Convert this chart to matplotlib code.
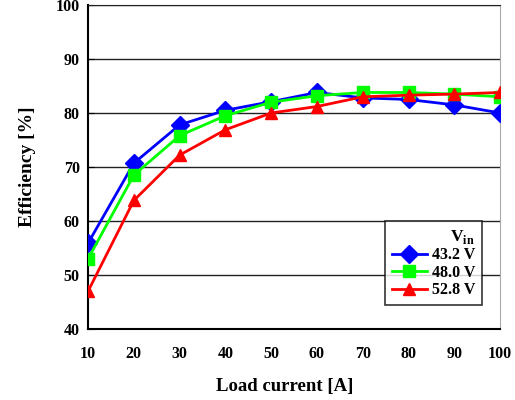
import matplotlib.pyplot as plt

plt.rcParams['font.family'] = ['Liberation Serif', 'DejaVu Serif']
plt.rcParams['font.weight'] = 'bold'
plt.rcParams['mathtext.fontset'] = 'custom'
plt.rcParams['mathtext.rm'] = 'Liberation Serif:bold'
plt.rcParams['mathtext.bf'] = 'Liberation Serif:bold'

# Dados
corrente = [10, 20, 30, 40, 50, 60, 70, 80, 90, 100]
ef_432 = [55.9, 70.7, 77.8, 80.5, 82.1, 83.8, 82.8, 82.5, 81.5, 80.0]
ef_480 = [53.0, 68.5, 75.8, 79.5, 82.0, 83.2, 83.8, 83.8, 83.5, 83.0]
ef_528 = [47.0, 63.8, 72.2, 76.9, 80.0, 81.2, 83.0, 83.3, 83.5, 83.8]
yticks = [40, 50, 60, 70, 80, 90, 100]

fig = plt.figure(figsize=(5.15, 4.0), dpi=100)
ax = fig.add_axes([0.171, 0.1775, 0.8, 0.81])

ax.plot(corrente, ef_432, color='#0000ff', marker='D', markersize=9, lw=2, label='43.2 V', zorder=3)
ax.plot(corrente, ef_480, color='#00ff00', marker='s', markersize=8, lw=2, label='48.0 V', zorder=3)
ax.plot(corrente, ef_528, color='#ff0000', marker='^', markersize=9, lw=2, label='52.8 V', zorder=3)

ax.set_xlim(10, 100)
ax.set_ylim(40, 100)
ax.set_xticks(corrente)
ax.set_yticks(yticks)
ax.tick_params(axis='x', length=0, pad=12, labelsize=11.5)
ax.tick_params(axis='y', length=4, direction='in', labelsize=11.5, pad=6)
ax.grid(True, axis='y', color='#222222', lw=1)
ax.spines['right'].set_color('#aaaaaa')
ax.spines['top'].set_color('#222222')
for s in ['left', 'bottom']:
    ax.spines[s].set_linewidth(1.5)

ax.set_xlabel('Load current [A]', fontsize=13.5, fontweight='bold')
ax.xaxis.set_label_coords(0.477, -0.15)
ax.set_ylabel('Efficiency [%]', fontsize=14, fontweight='bold', labelpad=14)

leg = ax.legend(title=r'V$_{\rm in}$', loc='lower right', bbox_to_anchor=(0.955, 0.075),
                fontsize=11.5, title_fontsize=12.5, frameon=True, fancybox=False,
                edgecolor='black', handlelength=2.2, handletextpad=0.3,
                borderpad=0.4, labelspacing=0.1, borderaxespad=0)
leg.get_frame().set_linewidth(1.2)
leg._legend_box.align = 'right'

plt.savefig('out.png', dpi=100)
